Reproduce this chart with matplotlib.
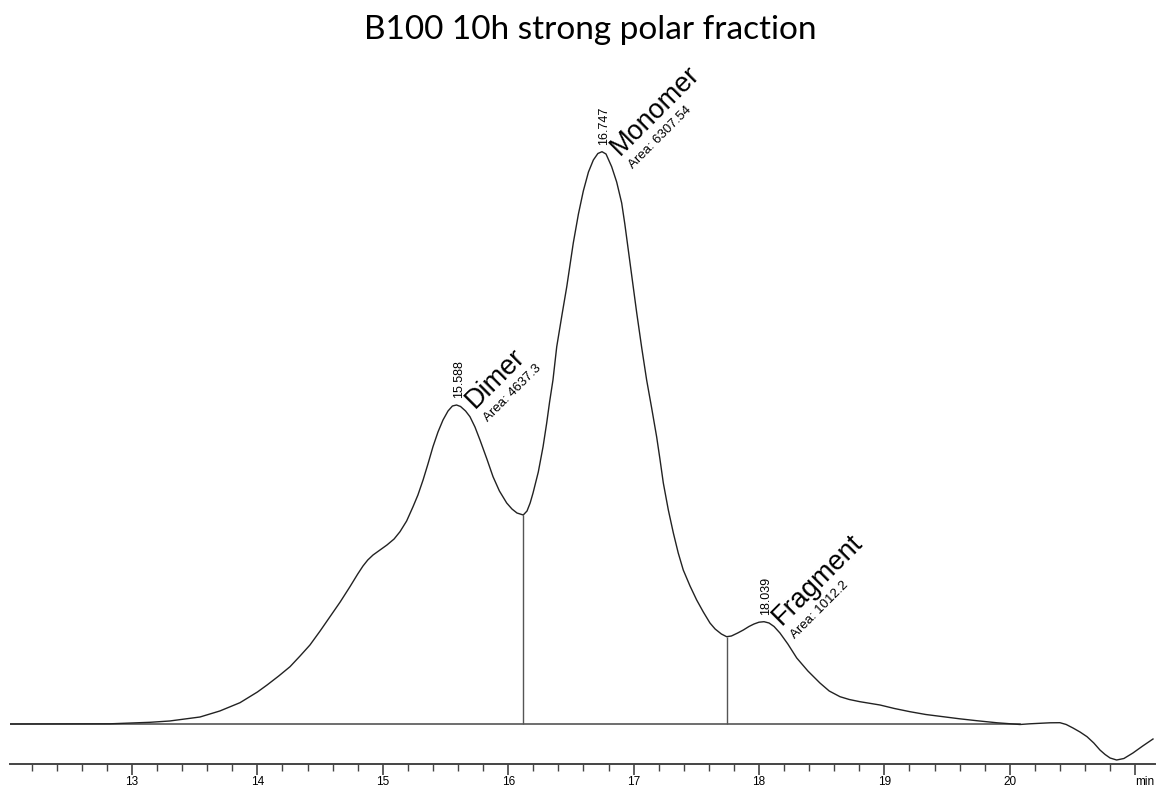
import numpy as np
import matplotlib
matplotlib.use('Agg')
import matplotlib.pyplot as plt

# Chromatogram trace (time in min, signal in mAU)
time_min = [12.027, 12.825, 13.144, 13.300, 13.542, 13.700, 13.861, 14.000, 14.077,
            14.170, 14.260, 14.340, 14.419, 14.500, 14.579, 14.660, 14.738, 14.800,
            14.842, 14.880, 14.922, 14.978, 15.033, 15.090, 15.137, 15.190, 15.241,
            15.280, 15.321, 15.360, 15.400, 15.440, 15.480, 15.520, 15.555, 15.588,
            15.620, 15.660, 15.695, 15.735, 15.775, 15.830, 15.879, 15.930, 15.988,
            16.030, 16.070, 16.120, 16.150, 16.175, 16.198, 16.240, 16.278, 16.307,
            16.330, 16.357, 16.387, 16.430, 16.467, 16.519, 16.560, 16.599, 16.640,
            16.679, 16.715, 16.748, 16.780, 16.825, 16.865, 16.905, 16.930, 16.958,
            16.990, 17.025, 17.065, 17.104, 17.144, 17.184, 17.210, 17.237, 17.277,
            17.317, 17.356, 17.396, 17.450, 17.503, 17.556, 17.609, 17.650, 17.700,
            17.742, 17.780, 17.830, 17.875, 17.920, 17.960, 18.000, 18.040, 18.080,
            18.120, 18.167, 18.230, 18.301, 18.390, 18.486, 18.560, 18.646, 18.720,
            18.805, 18.880, 18.965, 19.080, 19.204, 19.330, 19.467, 19.600, 19.736,
            19.900, 20.081, 20.160, 20.241, 20.320, 20.400, 20.450, 20.504, 20.560,
            20.616, 20.670, 20.719, 20.760, 20.800, 20.852, 20.910, 20.982, 21.060,
            21.142]
signal = [0.00, 0.02, 0.17, 0.30, 0.70, 1.30, 2.13, 3.20, 3.90,
          4.80, 5.73, 6.80, 7.90, 9.30, 10.73, 12.20, 13.73, 15.00,
          15.80, 16.40, 16.90, 17.40, 17.90, 18.50, 19.23, 20.30, 21.73,
          22.90, 24.40, 26.00, 27.73, 29.20, 30.40, 31.30, 31.80, 31.90,
          31.75, 31.30, 30.73, 29.70, 28.40, 26.50, 24.73, 23.30, 22.10,
          21.50, 21.10, 20.90, 21.30, 22.10, 23.10, 25.20, 27.73, 30.10,
          32.20, 34.40, 37.73, 41.00, 43.73, 48.10, 51.00, 53.30, 55.20,
          56.40, 57.05, 57.23, 57.00, 55.73, 54.20, 52.10, 50.00, 47.40,
          44.40, 41.10, 37.60, 34.40, 31.60, 28.70, 26.50, 24.10, 21.40,
          19.10, 17.10, 15.40, 13.80, 12.40, 11.20, 10.10, 9.50, 9.00,
          8.73, 8.80, 9.10, 9.40, 9.75, 10.00, 10.18, 10.23, 10.10,
          9.75, 9.10, 8.00, 6.60, 5.30, 4.10, 3.30, 2.73, 2.45,
          2.23, 2.08, 1.90, 1.55, 1.23, 0.95, 0.73, 0.52, 0.33,
          0.12, -0.05, 0.02, 0.07, 0.12, 0.13, -0.05, -0.40, -0.80,
          -1.27, -1.90, -2.60, -3.05, -3.40, -3.60, -3.45, -2.90, -2.20,
          -1.50]

peak_names = ['Dimer', 'Monomer', 'Fragment']
peak_rt = [15.588, 16.747, 18.039]
peak_area = ['4637.3', '6307.54', '1012.2']
split_rt = [16.120, 17.742]
baseline_end = 20.081

W, H = 1160, 787
fig = plt.figure(figsize=(W / 100, H / 100), dpi=100)
ax = fig.add_axes([10 / W, (H - 764) / H, 1145 / W, (764 - 60) / H])

ax.plot(time_min, signal, color='#222222', lw=1.0, zorder=3)
ax.plot([time_min[0], baseline_end], [0, 0], color='#555555', lw=1.2, zorder=2)
for t in split_rt:
    ax.vlines(t, 0, np.interp(t, time_min, signal), color='#555555', lw=1.0)

# peak labels: retention time upright, name + area at 45 degrees
for name, rt, area in zip(peak_names, peak_rt, peak_area):
    h = np.interp(rt, time_min, signal)
    ax.annotate(f'{rt:.3f}', (rt, h), xytext=(1.8, 5.0), textcoords='offset points',
                rotation=90, ha='center', va='bottom', fontsize=9,
                family='Liberation Sans')
    ax.annotate(name, (rt, h), xytext=(13.0, -3.0), textcoords='offset points',
                rotation=45, rotation_mode='anchor', ha='left', va='baseline',
                fontsize=19.5, family='Liberation Sans')
    ax.annotate(f'Area: {area}', (rt, h), xytext=(22.5, -12.5), textcoords='offset points',
                rotation=45, rotation_mode='anchor', ha='left', va='baseline',
                fontsize=9.5, family='Liberation Sans')

ax.set_xlim(12.027, 21.158)
ax.set_ylim(-4.0, 66.4)

for s in ['left', 'top', 'right']:
    ax.spines[s].set_visible(False)
ax.spines['bottom'].set_color('#444444')
ax.spines['bottom'].set_linewidth(1.4)
ax.set_yticks([])

major = list(range(13, 22))
ax.set_xticks(major, [str(m) for m in major[:-1]] + ['min'])
ax.set_xticks(np.arange(12.2, 21.1, 0.2), minor=True)
ax.tick_params(axis='x', which='major', length=8, width=1.2, color='#444444',
               labelsize=8.5, pad=0.5)
ax.tick_params(axis='x', which='minor', length=5, width=1.0, color='#444444')
for lab in ax.get_xticklabels():
    lab.set_family('Liberation Sans')
ax.get_xticklabels()[-1].set_ha('left')

fig.text(590 / W, 1 - 30 / H, 'B100 10h strong polar fraction', ha='center', va='center',
         fontsize=24, family='Lato')

fig.savefig('out.png', dpi=100)
